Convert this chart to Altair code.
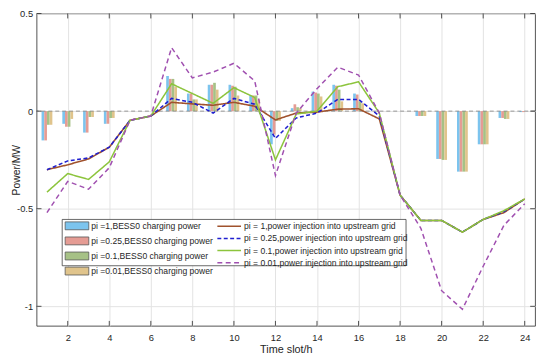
import altair as alt
import pandas as pd

FONT = "Liberation Sans"
INK = "#262626"

hours = list(range(1, 25))
x_ticks = [2, 4, 6, 8, 10, 12, 14, 16, 18, 20, 22, 24]
y_ticks = [-1, -0.5, 0, 0.5]

bar_names = [
    "pi =1,BESS0 charging power",
    "pi =0.25,BESS0 charging power",
    "pi =0.1,BESS0 charging power",
    "pi =0.01,BESS0 charging power",
]
bar_colors = ["#7cc4ee", "#e59c94", "#a6c186", "#e0c48c"]

bess_pi1 = [-0.15, -0.065, -0.11, -0.065, 0, 0, 0.18, 0.09, 0.135, 0.135, 0.08, -0.17,
            0.015, 0.10, 0.135, 0.09, 0, 0, -0.025, -0.245, -0.31, -0.17, -0.035, -0.005]
bess_pi025 = [-0.15, -0.08, -0.11, -0.065, 0, 0, 0.165, 0.09, 0.135, 0.13, 0.08, -0.12,
              0.035, 0.095, 0.13, 0.085, 0, 0, -0.025, -0.245, -0.31, -0.17, -0.035, -0.005]
bess_pi01 = [-0.07, -0.08, -0.03, -0.035, 0, 0, 0.165, 0.06, 0.145, 0.125, 0.08, -0.05,
             0.02, 0.09, 0.11, 0.05, 0, 0, -0.025, -0.25, -0.31, -0.17, -0.04, 0]
bess_pi001 = [-0.07, -0.04, -0.03, -0.035, 0, 0, 0.125, 0.06, 0.11, 0.08, 0.06, -0.05,
              0.015, 0.075, 0.05, 0.04, 0, 0, -0.025, -0.25, -0.31, -0.17, -0.04, 0]

line_names = [
    "pi = 1,power injection into upstream grid",
    "pi = 0.25,power injection into upstream grid",
    "pi = 0.1,power injection into upstream grid",
    "pi = 0.01,power injection into upstream grid",
]
line_colors = ["#a0522d", "#1f1fd0", "#8cc43c", "#a050b0"]
line_dashes = [[1, 0], [4, 2.5], [1, 0], [5, 3.5]]
line_widths = [1.6, 1.5, 1.1, 1.3]

grid_pi1 = [-0.30, -0.275, -0.245, -0.185, -0.047, -0.025, 0.045, 0.037, 0.03, 0.045, 0.025, -0.045,
            -0.01, -0.005, 0.01, 0.012, -0.04, -0.43, -0.56, -0.56, -0.62, -0.555, -0.52, -0.45]
grid_pi025 = [-0.30, -0.255, -0.24, -0.185, -0.047, -0.025, 0.065, 0.045, -0.01, 0.065, 0.035, -0.14,
              -0.035, -0.01, 0.06, 0.06, -0.025, -0.43, -0.56, -0.56, -0.62, -0.555, -0.515, -0.45]
grid_pi01 = [-0.415, -0.32, -0.35, -0.26, -0.047, -0.025, 0.14, 0.09, 0.04, 0.12, 0.07, -0.25,
             -0.015, 0.0, 0.125, 0.15, -0.01, -0.43, -0.56, -0.56, -0.62, -0.555, -0.51, -0.45]
grid_pi001 = [-0.52, -0.36, -0.40, -0.29, -0.047, -0.025, 0.325, 0.17, 0.20, 0.245, 0.155, -0.33,
              -0.01, 0.115, 0.225, 0.185, -0.01, -0.43, -0.60, -0.92, -1.015, -0.795, -0.585, -0.475]

W, H = 506, 317

bar_series = [bess_pi1, bess_pi025, bess_pi01, bess_pi001]
line_series = [grid_pi1, grid_pi025, grid_pi01, grid_pi001]

bars_df = pd.DataFrame([
    {"hour": h, "series": bar_names[i], "idx": i, "value": v}
    for i, s in enumerate(bar_series) for h, v in zip(hours, s)
])
lines_df = pd.DataFrame([
    {"hour": h, "series": line_names[i], "value": v}
    for i, s in enumerate(line_series) for h, v in zip(hours, s)
])

xscale = alt.Scale(domain=[0.5, 24.5], nice=False, zero=False)
yscale = alt.Scale(domain=[-1.1, 0.5], nice=False, zero=False)

xaxis = alt.Axis(values=x_ticks, title="Time slot/h", grid=True, gridColor="#e3e3e3",
                 domain=False, ticks=False, labelPadding=7, labelFont=FONT, labelFontSize=9.5,
                 labelColor=INK, titleFont=FONT, titleFontSize=11, titleFontWeight="normal",
                 titleColor=INK, titlePadding=2, labelFlush=False)
yaxis = alt.Axis(values=y_ticks, title="Power/MW", grid=True, gridColor="#e3e3e3",
                 domain=False, ticks=False, labelPadding=4, labelFont=FONT, labelFontSize=9.5,
                 labelColor=INK, titleFont=FONT, titleFontSize=10.5, titleFontWeight="normal",
                 titleColor=INK, titlePadding=-3, titleBaseline="alphabetic",
                 labelExpr="datum.value + ''", labelFlush=False)

leg_common = dict(title=None, orient="none", padding=0, symbolSize=64, labelOffset=10,
                  labelFont=FONT, labelFontSize=8.7, labelColor=INK, rowPadding=2.3,
                  labelLimit=400, symbolOpacity=1)

bar_layer = alt.Chart(bars_df).transform_calculate(
    x0="datum.hour + (datum.idx - 2) * 0.13",
    x1="datum.hour + (datum.idx - 1) * 0.13",
).mark_rect(strokeWidth=0).encode(
    x=alt.X("x0:Q", scale=xscale, axis=xaxis),
    x2="x1:Q",
    y=alt.Y("value:Q", scale=yscale, axis=yaxis),
    y2=alt.datum(0),
    fill=alt.Fill("series:N", scale=alt.Scale(domain=bar_names, range=bar_colors),
                  legend=alt.Legend(legendX=36.5, legendY=211,
                                    symbolType="M-3,-1H3V1H-3Z",
                                    symbolStrokeColor="#555555", symbolStrokeWidth=0.8,
                                    **leg_common)),
)

zero_rule = alt.Chart(pd.DataFrame({"z": [0]})).mark_rule(
    strokeDash=[4, 3], color="#808080", strokeWidth=0.8
).encode(y=alt.Y("z:Q", scale=yscale, axis=yaxis))

line_layer = alt.Chart(lines_df).mark_line().encode(
    x=alt.X("hour:Q", scale=xscale, axis=xaxis),
    y=alt.Y("value:Q", scale=yscale, axis=yaxis),
    stroke=alt.Stroke("series:N", scale=alt.Scale(domain=line_names, range=line_colors),
                      legend=alt.Legend(legendX=190.5, legendY=211, symbolType="M-3,0H3",
                                        symbolStrokeWidth=1.5, **leg_common)),
    strokeDash=alt.StrokeDash("series:N", scale=alt.Scale(domain=line_names, range=line_dashes),
                              legend=alt.Legend(legendX=190.5, legendY=211, symbolType="M-3,0H3",
                                                symbolStrokeWidth=1.5, **leg_common)),
    strokeWidth=alt.StrokeWidth("series:N", scale=alt.Scale(domain=line_names, range=line_widths),
                                legend=None),
)

frame = alt.Chart(pd.DataFrame({"a": [0]})).mark_rect(
    fill="white", stroke=INK, strokeWidth=0.7
).encode(x=alt.value(26), x2=alt.value(375), y=alt.value(209), y2=alt.value(256))

xt = pd.DataFrame({"t": x_ticks})
yt = pd.DataFrame({"t": y_ticks})
tick_style = dict(color=INK, strokeWidth=0.8)
xt_bottom = alt.Chart(xt).mark_rule(**tick_style).encode(
    x=alt.X("t:Q", scale=xscale, axis=xaxis), y=alt.value(H), y2=alt.value(H - 5))
xt_top = alt.Chart(xt).mark_rule(**tick_style).encode(
    x=alt.X("t:Q", scale=xscale, axis=xaxis), y=alt.value(0), y2=alt.value(5))
yt_left = alt.Chart(yt).mark_rule(**tick_style).encode(
    y=alt.Y("t:Q", scale=yscale, axis=yaxis), x=alt.value(0), x2=alt.value(5))
yt_right = alt.Chart(yt).mark_rule(**tick_style).encode(
    y=alt.Y("t:Q", scale=yscale, axis=yaxis), x=alt.value(W), x2=alt.value(W - 5))

chart = alt.layer(
    bar_layer, zero_rule, line_layer, frame, xt_bottom, xt_top, yt_left, yt_right
).properties(
    width=W, height=H,
    autosize=alt.AutoSizeParams(type="none"),
    padding={"left": 29, "top": 3, "right": 7, "bottom": 27},
    background="white",
).configure_view(stroke=INK, strokeWidth=0.8)

chart.save("out.html", embed_options={"renderer": "svg", "actions": False})
